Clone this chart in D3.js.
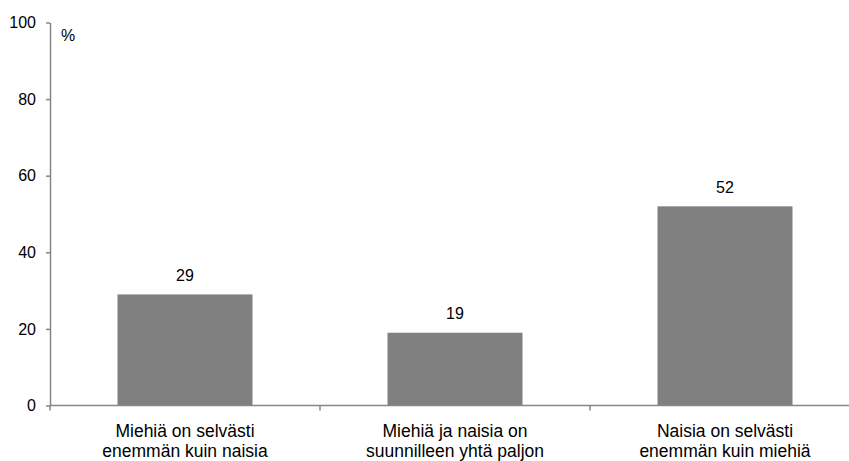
<!DOCTYPE html>
<html>
<head>
<meta charset="utf-8">
<script src="https://cdn.jsdelivr.net/npm/d3@7"></script>
<style>
  html, body { margin: 0; padding: 0; background: #fff; }
  svg { display: block; font-family: "Liberation Sans", Arial, sans-serif; }
</style>
</head>
<body>
<svg id="chart" width="849" height="461"></svg>
<script>
// Survey answers: share of respondents (%) per answer
const categories = [
  ["Miehiä on selvästi", "enemmän kuin naisia"],
  ["Miehiä ja naisia on", "suunnilleen yhtä paljon"],
  ["Naisia on selvästi", "enemmän kuin miehiä"]
];
const values = [29, 19, 52];
const yTicks = [0, 20, 40, 60, 80, 100];
const unitLabel = "%";

const svg = d3.select("#chart");
const plotLeft = 50, plotRight = 860, plotTop = 22.5, plotBottom = 405.5;
const axisColor = "#868686";
const barColor = "#808080";

const keys = categories.map((_, i) => i);
const x = d3.scaleBand().domain(keys).range([plotLeft, plotRight]).paddingInner(0).paddingOuter(0);
const y = d3.scaleLinear().domain([0, 100]).range([plotBottom, plotTop]);

// Bars: half the band wide, centred in it
const barW = x.bandwidth() / 2;
svg.append("g").selectAll("rect")
  .data(values)
  .join("rect")
  .attr("x", (d, i) => x(i) + (x.bandwidth() - barW) / 2)
  .attr("y", d => y(d))
  .attr("width", barW)
  .attr("height", d => y(0) - y(d))
  .attr("fill", barColor);

// Value labels above bars
svg.append("g").selectAll("text")
  .data(values)
  .join("text")
  .attr("x", (d, i) => x(i) + x.bandwidth() / 2)
  .attr("y", d => y(d) - 13.5)
  .attr("text-anchor", "middle")
  .attr("font-size", "16px")
  .attr("fill", "#000")
  .text(d => d);

// Y axis
const yAxis = svg.append("g")
  .attr("transform", `translate(${plotLeft},0)`)
  .call(d3.axisLeft(y).tickValues(yTicks).tickSize(4).tickPadding(10).tickSizeOuter(0));
yAxis.select(".domain").attr("stroke", axisColor).attr("stroke-width", 1.5);
yAxis.selectAll(".tick line").attr("stroke", axisColor).attr("stroke-width", 1.5);
yAxis.selectAll(".tick text")
  .attr("font-size", "16px")
  .attr("font-family", "Liberation Sans, Arial, sans-serif")
  .attr("fill", "#000");

// X axis: baseline with ticks at band boundaries
const xAxis = svg.append("g").attr("transform", `translate(0,${plotBottom})`);
xAxis.append("line")
  .attr("x1", plotLeft).attr("x2", plotRight)
  .attr("stroke", axisColor).attr("stroke-width", 1.5);
const boundaries = keys.map(k => x(k)).concat([x(keys[keys.length - 1]) + x.bandwidth()]);
xAxis.selectAll("line.tk")
  .data(boundaries)
  .join("line")
  .attr("class", "tk")
  .attr("x1", d => d).attr("x2", d => d)
  .attr("y1", 0).attr("y2", 5)
  .attr("stroke", axisColor).attr("stroke-width", 1.5);

// Category labels (two lines)
const catG = svg.append("g").selectAll("text")
  .data(categories)
  .join("text")
  .attr("text-anchor", "middle")
  .attr("font-size", "17.5px")
  .attr("fill", "#000");
catG.selectAll("tspan")
  .data((d, i) => d.map(line => ({ line, i })))
  .join("tspan")
  .attr("x", d => x(d.i) + x.bandwidth() / 2)
  .attr("y", (d, j) => 437 + j * 20)
  .text(d => d.line);

// Unit label
svg.append("text")
  .attr("x", 61)
  .attr("y", 41)
  .attr("font-size", "16px")
  .attr("fill", "#000")
  .text(unitLabel);
</script>
</body>
</html>
